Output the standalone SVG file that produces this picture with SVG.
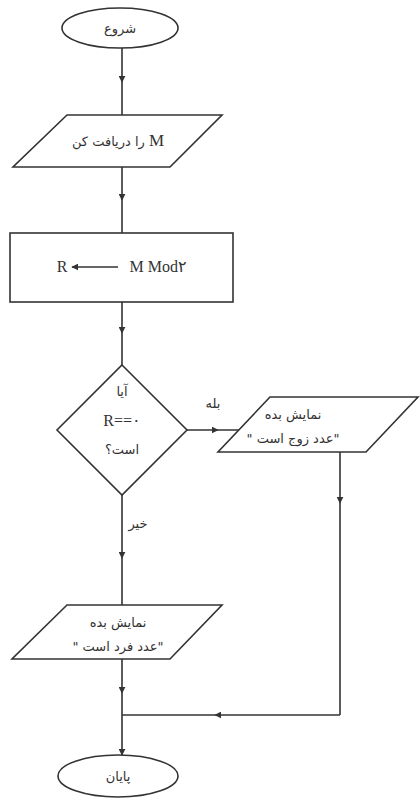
<svg xmlns="http://www.w3.org/2000/svg" width="420" height="801" viewBox="0 0 420 801">
<defs>
<style>
.s{fill:#fff;stroke:#333;stroke-width:1.6}
.c{fill:none;stroke:#333;stroke-width:1.6}
.t{font-family:"Liberation Serif","DejaVu Sans",serif;font-size:16px;fill:#333;text-anchor:middle}
.f{font-family:"DejaVu Sans","Noto Sans",sans-serif;font-size:13px;fill:#333;text-anchor:middle}
</style>
<marker id="a" viewBox="0 0 10 10" refX="9" refY="5" markerWidth="7" markerHeight="7" markerUnits="userSpaceOnUse" orient="auto">
<path d="M0 0 L10 5 L0 10 Z" fill="#333"/>
</marker>
</defs>
<rect width="420" height="801" fill="#fff"/>
<g id="connectors">
<path class="c" d="M122 48 L122 82 L122 115" marker-mid="url(#a)"/>
<path class="c" d="M122 167 L122 200 L122 233" marker-mid="url(#a)"/>
<path class="c" d="M122 302 L122 333 L122 365" marker-mid="url(#a)"/>
<path class="c" d="M185 430 L218 430 L244 430" marker-mid="url(#a)"/>
<path class="c" d="M122 495 L122 558 L122 605" marker-mid="url(#a)"/>
<path class="c" d="M340 452 L340 503 L340 715" marker-mid="url(#a)"/>
<path class="c" d="M340 715 L215 715 L122 715" marker-mid="url(#a)"/>
<path class="c" d="M122 659 L122 693 L122 755" marker-mid="url(#a)" marker-end="url(#a)"/>
<text class="f" x="213" y="408">بله</text>
<text class="f" x="138" y="528">خیر</text>
</g>
<g id="start">
<ellipse class="s" cx="120" cy="28" rx="58" ry="20"/>
<text class="f" x="120" y="33">شروع</text>
</g>
<g id="input">
<polygon class="s" points="67,115 222,115 170,167 13,167"/>
<text class="f" x="118" y="146" direction="rtl"><tspan font-family="Liberation Serif" font-size="17">M</tspan> را دریافت کن</text>
</g>
<g id="process">
<rect class="s" x="10" y="233" width="223" height="69"/>
<text class="t" x="62" y="272">R</text>
<line class="c" x1="118" y1="267" x2="72" y2="267" marker-end="url(#a)"/>
<text class="t" x="158" y="272">M Mod۲</text>
</g>
<g id="decision">
<polygon class="s" points="122,365 187,430 122,495 57,430"/>
<text class="f" x="122" y="396">آیا</text>
<text class="t" x="122" y="426">R==۰</text>
<text class="f" x="122" y="454">است؟</text>
</g>
<g id="even">
<polygon class="s" points="270,397 418,397 366,452 218,452"/>
<text class="f" x="293" y="419">نمایش بده</text>
<text class="f" x="293" y="443" direction="rtl">"عدد زوج است "</text>
</g>
<g id="odd">
<polygon class="s" points="67,605 222,605 170,659 12,659"/>
<text class="f" x="118" y="627">نمایش بده</text>
<text class="f" x="118" y="651" direction="rtl">"عدد فرد است "</text>
</g>
<g id="end">
<ellipse class="s" cx="118" cy="776" rx="60" ry="21"/>
<text class="f" x="118" y="781">پایان</text>
</g>
</svg>
